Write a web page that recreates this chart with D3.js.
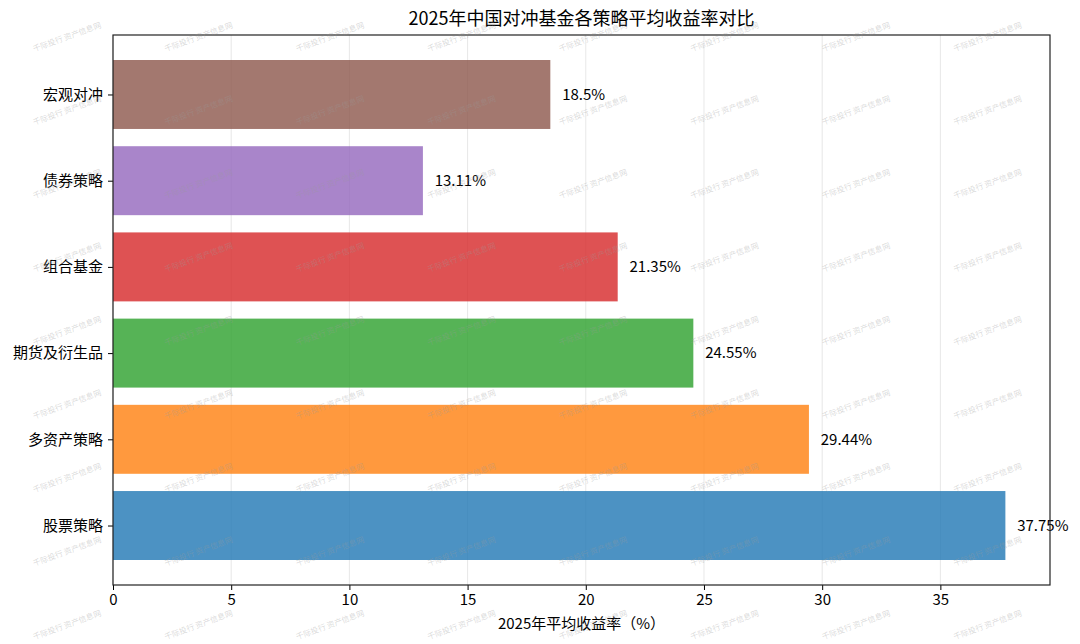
<!DOCTYPE html>
<html>
<head>
<meta charset="utf-8">
<script src="https://cdn.jsdelivr.net/npm/d3@7"></script>
<style>
  html, body { margin: 0; padding: 0; background: #fff; }
  svg { display: block; font-family: "Noto Sans CJK SC", "Noto Sans", sans-serif; }
</style>
</head>
<body>
<svg id="chart" width="1080" height="644"></svg>
<script>
// ---- data ----
const categories = ["股票策略", "多资产策略", "期货及衍生品", "组合基金", "债券策略", "宏观对冲"];
const values = [37.75, 29.44, 24.55, 21.35, 13.11, 18.5];
const valueLabels = ["37.75%", "29.44%", "24.55%", "21.35%", "13.11%", "18.5%"];
const xTicks = [0, 5, 10, 15, 20, 25, 30, 35];
const title = "2025年中国对冲基金各策略平均收益率对比";
const xLabel = "2025年平均收益率（%）";
const watermarkText = "千际投行 资产信息网";

// ---- style ----
const palette = ["#1f77b4", "#ff7f0e", "#2ca02c", "#d62728", "#9467bd", "#8c564b"];
const FS = 15;
const m = { left: 113, right: 1050, top: 35, bottom: 585 };

const svg = d3.select("#chart");

const x = d3.scaleLinear().domain([0, d3.max(values) * 1.05]).range([m.left, m.right]);
const y = d3.scaleLinear().domain([-0.69, categories.length - 1 + 0.69]).range([m.bottom, m.top]);
const barH = y(0) - y(0.8);

// grid
svg.append("g").selectAll("line").data(xTicks).join("line")
  .attr("x1", d => x(d)).attr("x2", d => x(d))
  .attr("y1", m.top).attr("y2", m.bottom)
  .attr("stroke", "#b0b0b0").attr("stroke-opacity", 0.3).attr("stroke-width", 1);

// bars
svg.append("g").selectAll("rect").data(values).join("rect")
  .attr("x", x(0))
  .attr("y", (d, i) => y(i) - barH / 2)
  .attr("width", d => x(d) - x(0))
  .attr("height", barH)
  .attr("fill", (d, i) => palette[i])
  .attr("fill-opacity", 0.8);

// value labels
svg.append("g").selectAll("text").data(values).join("text")
  .attr("x", d => x(d + 0.5))
  .attr("y", (d, i) => y(i))
  .attr("dy", "0.35em")
  .attr("font-size", FS)
  .attr("fill", "#000")
  .text((d, i) => valueLabels[i]);

// x axis
const xAxis = svg.append("g")
  .attr("transform", `translate(0,${m.bottom})`)
  .call(d3.axisBottom(x).tickValues(xTicks).tickSize(5).tickPadding(4).tickFormat(d3.format("d")));
xAxis.select(".domain").remove();
xAxis.selectAll("text").attr("font-size", FS).attr("fill", "#000")
  .attr("font-family", "'Noto Sans CJK SC', 'Noto Sans', sans-serif");
xAxis.selectAll("line").attr("stroke", "#000");

// y axis
const yAxis = svg.append("g")
  .attr("transform", `translate(${m.left},0)`)
  .call(d3.axisLeft(y).tickValues(d3.range(categories.length)).tickSize(5).tickPadding(5)
    .tickFormat(i => categories[i]));
yAxis.select(".domain").remove();
yAxis.selectAll("text").attr("font-size", FS).attr("fill", "#000")
  .attr("font-family", "'Noto Sans CJK SC', 'Noto Sans', sans-serif");
yAxis.selectAll("line").attr("stroke", "#000");

// frame
svg.append("rect")
  .attr("x", m.left).attr("y", m.top)
  .attr("width", m.right - m.left).attr("height", m.bottom - m.top)
  .attr("fill", "none").attr("stroke", "#222").attr("stroke-width", 1.2);

// title
svg.append("text")
  .attr("x", (m.left + m.right) / 2).attr("y", 25)
  .attr("text-anchor", "middle").attr("font-size", 18).attr("fill", "#000")
  .text(title);

// x label
svg.append("text")
  .attr("x", (m.left + m.right) / 2).attr("y", 629)
  .attr("text-anchor", "middle").attr("font-size", FS).attr("fill", "#000")
  .text(xLabel);

// watermark
const wm = svg.append("g").attr("pointer-events", "none");
for (let r = 0; r < 9; r++) {
  for (let c = 0; c < 8; c++) {
    const cx = 67 + c * 131.5, cy = 37 + r * 73.5;
    wm.append("text")
      .attr("transform", `translate(${cx},${cy}) rotate(-20)`)
      .attr("text-anchor", "middle").attr("dy", "0.35em")
      .attr("font-size", 7.8).attr("fill", "#9a9a9a").attr("fill-opacity", 0.38)
      .text(watermarkText);
  }
}
</script>
</body>
</html>
